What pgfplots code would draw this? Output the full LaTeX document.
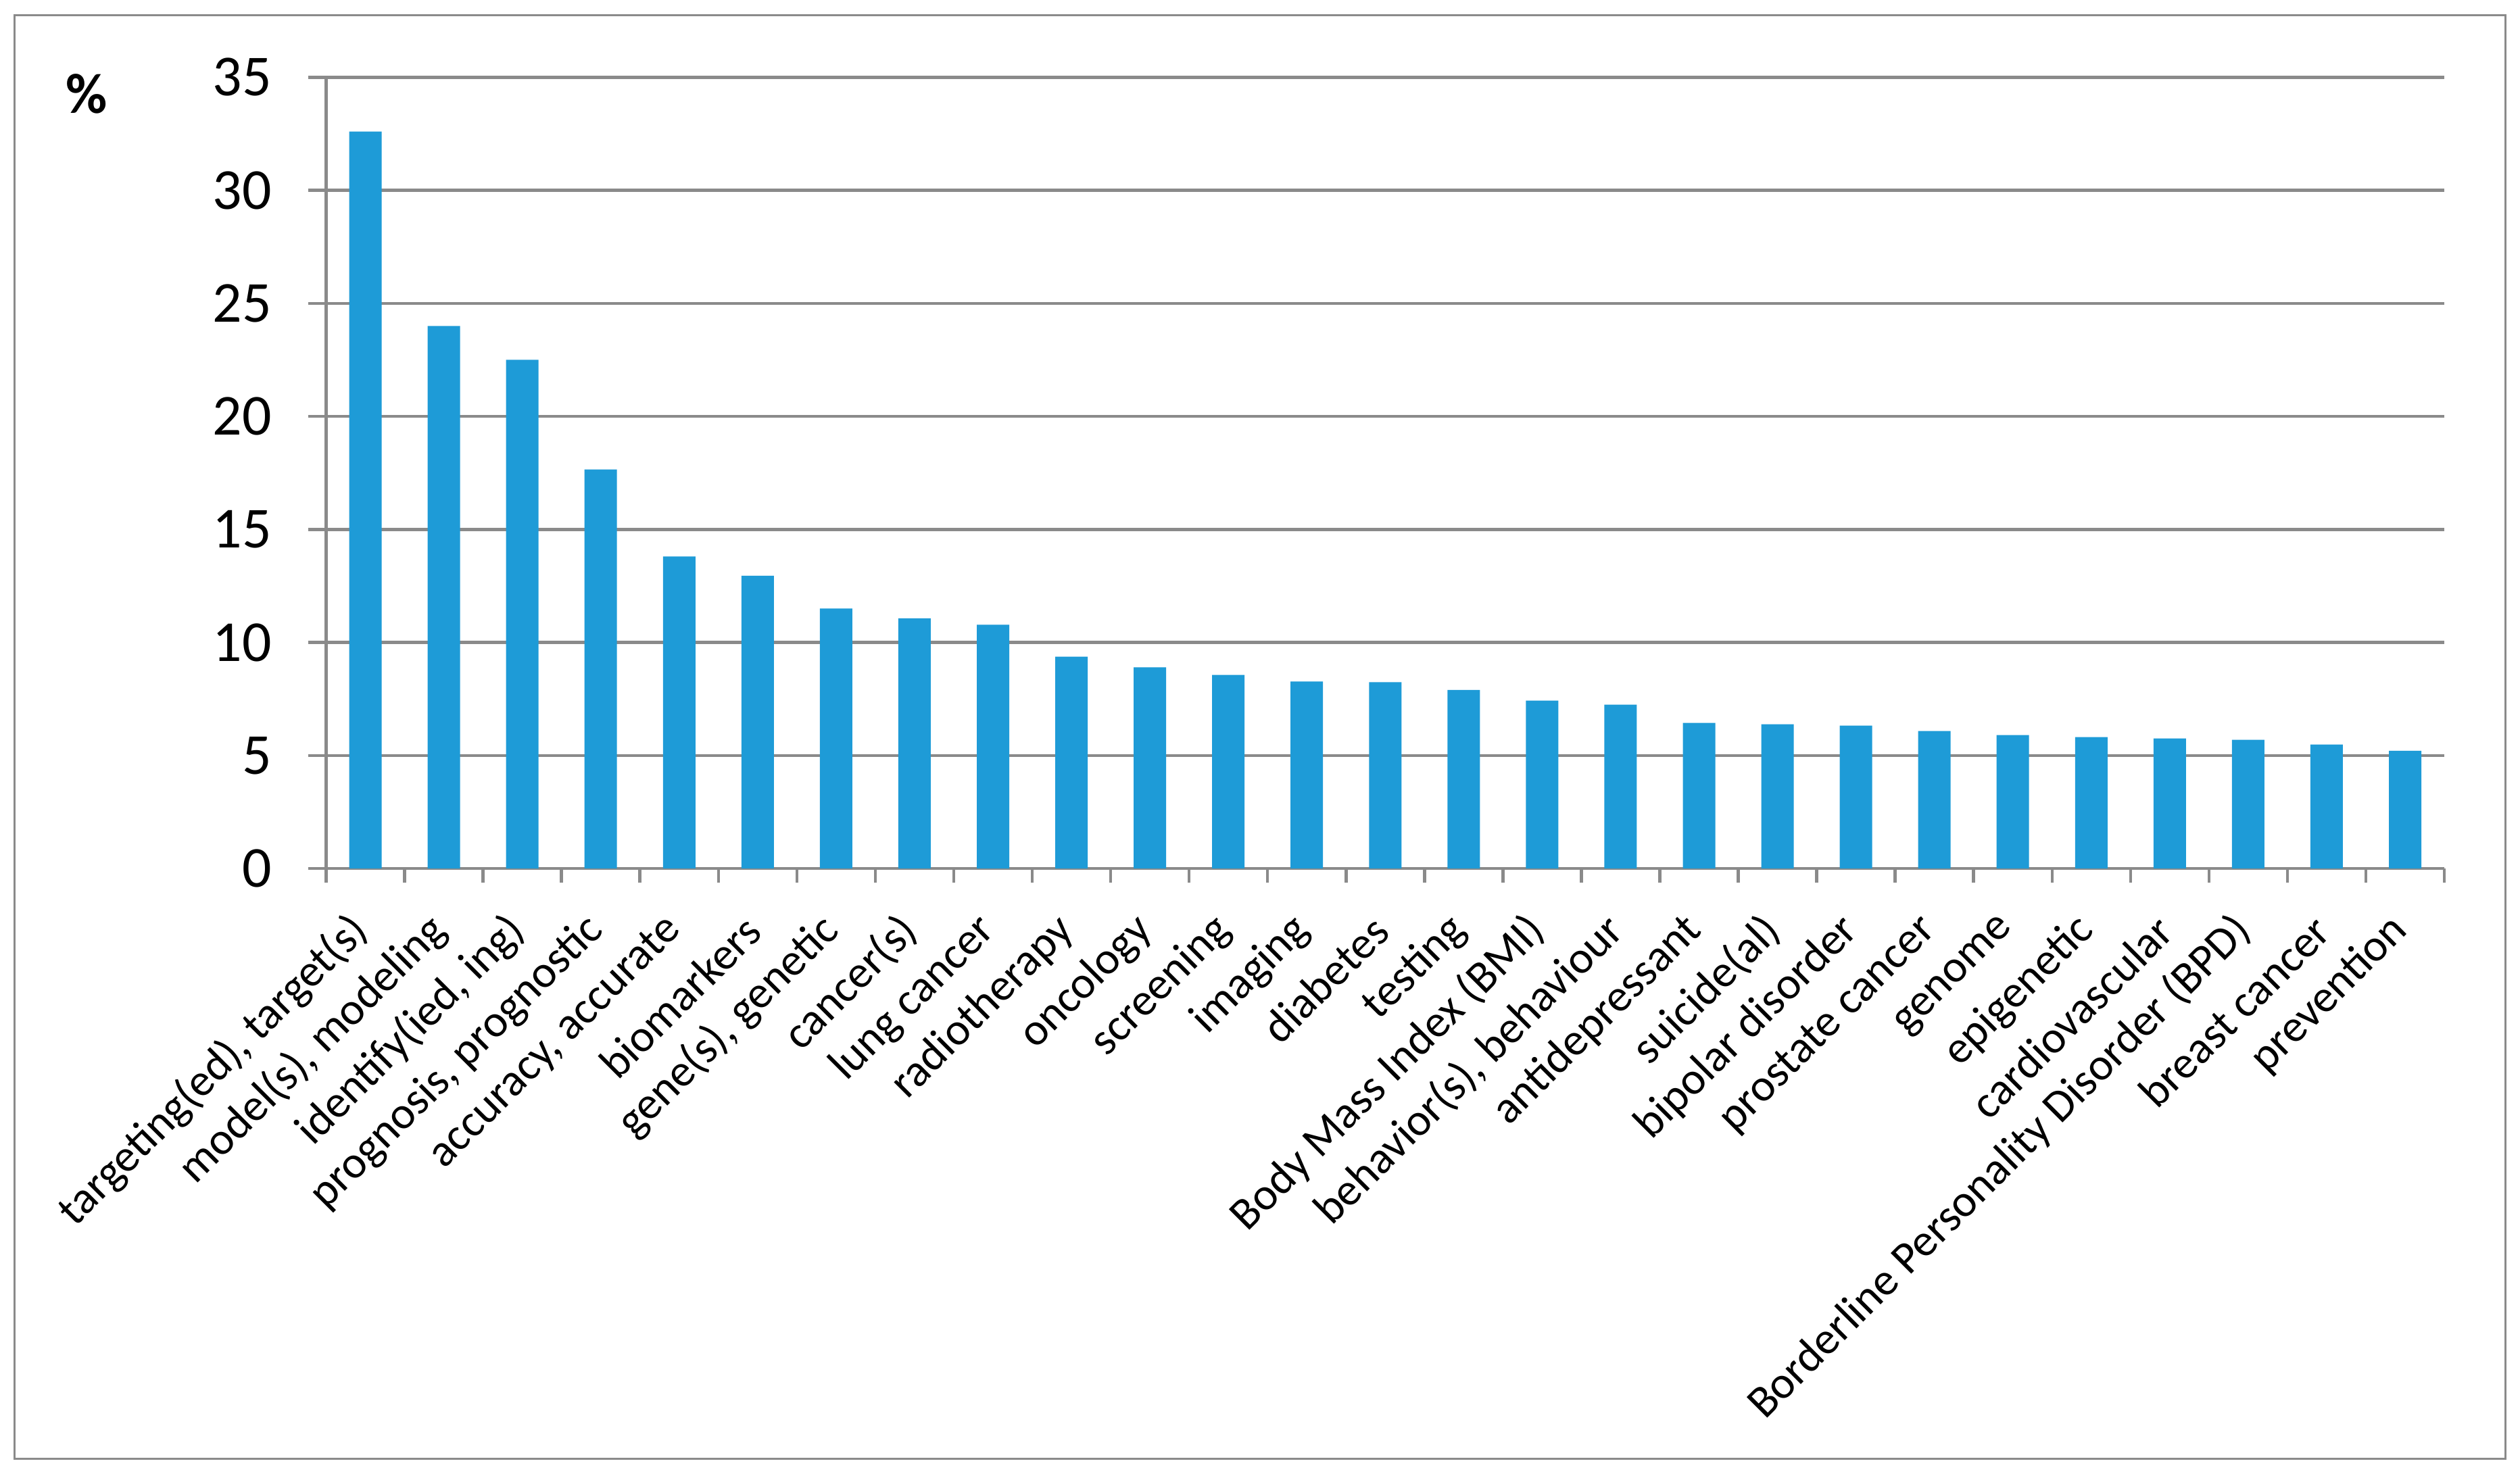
\documentclass[border=0pt]{standalone}
\usepackage{pgfplots}
\pgfplotsset{compat=1.18}
\usepackage{fontspec}
\setmainfont{Carlito}
\definecolor{barblue}{RGB}{30,155,215}
\definecolor{gridgray}{RGB}{138,138,138}
\begin{document}
\begin{tikzpicture}
\useasboundingbox (0,0) rectangle (621.33pt,363.5pt);
\draw[gridgray, line width=0.5pt] (3.5pt,3.83pt) rectangle (617.7pt,359.8pt);
\node[font=\fontsize{14}{14}\selectfont\bfseries] at (21.4pt,340.4pt) {\%};
\begin{axis}[
  at={(80.42pt,149.33pt)}, anchor=south west,
  scale only axis, width=522.25pt, height=195.1pt,
  xmin=-0.5, xmax=26.5, ymin=0, ymax=35,
  axis lines*=left,
  axis line style={gridgray, line width=0.75pt, -},
  ytick={0,5,...,35},
  ymajorgrids, grid style={gridgray, line width=0.75pt},
  xtick={0,...,26},
  minor xtick={-0.5,0.5,...,26.5},
  major x tick style={draw=none},
  tick align=outside,
  tick style={gridgray, line width=0.75pt},
  major tick length=4.5pt, minor tick length=3.5pt,
  /pgf/number format/assume math mode=true,
  yticklabel style={font=\fontsize{14.3}{14.3}\selectfont, anchor=east, inner sep=0pt, xshift=-8.8pt},
  xticklabel style={font=\fontsize{11.2}{11.2}\selectfont, inner sep=0pt, yshift=-9pt, xshift=-1pt, rotate=45, anchor=east},
  xticklabels={{targeting(ed), target(s)},{model(s), modeling},{identify(ied, ing)},{prognosis, prognostic},{accuracy, accurate},{biomarkers},{gene(s), genetic},{cancer(s)},{lung cancer},{radiotherapy},{oncology},{screening},{imaging},{diabetes},{testing},{Body Mass Index (BMI)},{behavior(s), behaviour},{antidepressant},{suicide(al)},{bipolar disorder},{prostate cancer},{genome},{epigenetic},{cardiovascular},{Borderline Personality Disorder (BPD)},{breast cancer},{prevention}},
  ybar, bar width=8pt,
]
\addplot[fill=barblue, draw=none] coordinates {
(0,32.6) (1,24.0) (2,22.5) (3,17.65) (4,13.8) (5,12.95) (6,11.5) (7,11.07) (8,10.78) (9,9.37)
(10,8.9) (11,8.56) (12,8.27) (13,8.24) (14,7.9) (15,7.43) (16,7.25) (17,6.44) (18,6.38) (19,6.32)
(20,6.08) (21,5.9) (22,5.81) (23,5.75) (24,5.69) (25,5.48) (26,5.21)
};
\end{axis}
\end{tikzpicture}
\end{document}
